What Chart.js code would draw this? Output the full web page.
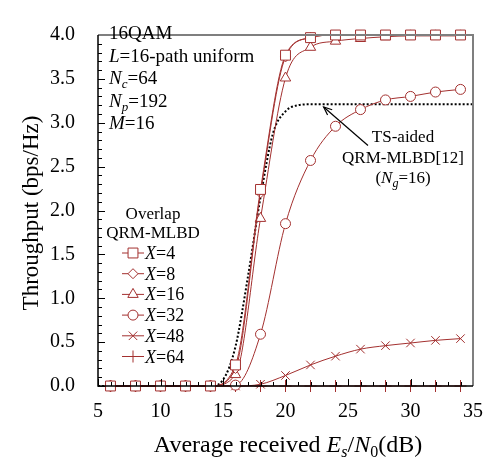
<!DOCTYPE html>
<html>
<head>
<meta charset="utf-8">
<script src="https://cdn.jsdelivr.net/npm/chart.js@4.4.0/dist/chart.umd.min.js"></script>
<style>
  html, body { margin: 0; padding: 0; background: #fff; }
</style>
</head>
<body>
<canvas id="throughputChart" width="497" height="459"></canvas>
<script>
  // valores
  const snr = [6, 8, 10, 12, 14, 16, 18, 20, 22, 24, 26, 28, 30, 32, 34];
  const tputX4  = [0, 0, 0, 0, 0, 0.24, 2.24, 3.77, 3.97, 4.0, 4.0, 4.0, 4.0, 4.0, 4.0];
  const tputX8  = [0, 0, 0, 0, 0, 0.20, 2.20, 3.75, 3.97, 4.0, 4.0, 4.0, 4.0, 4.0, 4.0];
  const tputX16 = [0, 0, 0, 0, 0, 0.13, 1.91, 3.51, 3.86, 3.93, 3.96, 3.98, 3.99, 3.99, 3.99];
  const tputX32 = [0, 0, 0, 0, 0, 0.01, 0.59, 1.85, 2.57, 2.96, 3.15, 3.26, 3.30, 3.35, 3.38];
  const tputX48 = [0, 0, 0, 0, 0, 0, 0.02, 0.12, 0.24, 0.34, 0.42, 0.46, 0.49, 0.52, 0.54];
  const tputX64 = [0, 0, 0, 0, 0, 0, 0, 0, 0, 0, 0, 0, 0, 0, 0];

  const snrTS  = [5, 6, 7, 8, 9, 10, 11, 12, 13, 14, 15, 16, 17, 18, 19, 20, 21, 22, 23, 24, 25, 26, 27, 28, 29, 30, 31, 32, 33, 34, 35];
  const tputTS = [0, 0, 0, 0, 0, 0, 0, 0, 0, 0, 0.07, 0.45, 1.25, 2.15, 2.88, 3.13, 3.2, 3.21, 3.21, 3.21, 3.21, 3.21, 3.21, 3.21, 3.21, 3.21, 3.21, 3.21, 3.21, 3.21, 3.21];

  const legendaX = ['4', '8', '16', '32', '48', '64'];
  const marcadores = ['rect', 'rectRot', 'triangle', 'circle', 'crossRot', 'cross'];
  const raios = [7, 5, 6, 5, 6, 6];

  const vermelho = '#a3302f';
  const serif = '"Liberation Serif", "Times New Roman", serif';

  const series = [tputX4, tputX8, tputX16, tputX32, tputX48, tputX64];

  const datasets = series.map((valores, i) => ({
    label: 'X=' + legendaX[i],
    data: snr.map((s, k) => ({ x: s, y: valores[k] })),
    borderColor: vermelho,
    borderWidth: 1,
    backgroundColor: '#fff',
    pointStyle: marcadores[i],
    pointRadius: raios[i],
    pointBorderWidth: 1,
    pointBorderColor: vermelho,
    pointBackgroundColor: '#fff',
    cubicInterpolationMode: 'monotone',
    clip: false
  }));

  datasets.push({
    label: 'TS-aided',
    data: snrTS.map((s, k) => ({ x: s, y: tputTS[k] })),
    borderColor: '#000',
    borderWidth: 2,
    borderDash: [2, 2],
    pointRadius: 0,
    cubicInterpolationMode: 'monotone',
    clip: false
  });

  function fonte(p, tam) {
    return (p.i ? 'italic ' : '') + (p.sub ? Math.round(tam * 0.68) : tam) + 'px ' + serif;
  }

  function textoRico(ctx, partes, x, y, tam, alinhar) {
    const medidas = partes.map(p => { ctx.font = fonte(p, tam); return ctx.measureText(p.t).width; });
    const total = medidas.reduce((a, b) => a + b, 0);
    let cx = alinhar === 'center' ? x - total / 2 : x;
    ctx.textAlign = 'left';
    ctx.textBaseline = 'alphabetic';
    partes.forEach((p, i) => {
      ctx.font = fonte(p, tam);
      ctx.fillText(p.t, cx, y + (p.sub ? tam * 0.22 : 0));
      cx += medidas[i];
    });
  }

  const desenhoExtra = {
    id: 'desenhoExtra',
    afterDraw(chart) {
      const ctx = chart.ctx;
      const { left, right, top, bottom } = chart.chartArea;
      const xs = chart.scales.x, ys = chart.scales.y;
      ctx.save();

      // marcas dos eixos, para dentro
      ctx.strokeStyle = '#000';
      ctx.lineWidth = 1;
      for (let v = 5; v <= 35; v++) {
        const px = Math.round(xs.getPixelForValue(v)) + 0.5;
        const len = v % 5 === 0 ? 7 : 4;
        ctx.beginPath(); ctx.moveTo(px, bottom); ctx.lineTo(px, bottom - len); ctx.stroke();
      }
      for (let k = 0; k <= 40; k++) {
        const py = Math.round(ys.getPixelForValue(k / 10)) + 0.5;
        const len = k % 5 === 0 ? 7 : 4;
        ctx.beginPath(); ctx.moveTo(left, py); ctx.lineTo(left + len, py); ctx.stroke();
      }

      // moldura
      ctx.strokeStyle = '#7f7f7f';
      ctx.lineWidth = 2;
      ctx.beginPath(); ctx.moveTo(left, top); ctx.lineTo(right, top); ctx.lineTo(right, bottom); ctx.stroke();
      ctx.strokeStyle = '#000';
      ctx.lineWidth = 1.5;
      ctx.beginPath(); ctx.moveTo(left, top); ctx.lineTo(left, bottom); ctx.lineTo(right, bottom); ctx.stroke();

      ctx.fillStyle = '#000';

      // titulos dos eixos
      textoRico(ctx, [{ t: 'Average received ' }, { t: 'E', i: true }, { t: 's', i: true, sub: true },
        { t: '/' }, { t: 'N', i: true }, { t: '0', sub: true }, { t: '(dB)' }], 288, 452, 24, 'center');
      ctx.save();
      ctx.translate(38, 213);
      ctx.rotate(-Math.PI / 2);
      textoRico(ctx, [{ t: 'Throughput (bps/Hz)' }], 0, 0, 23, 'center');
      ctx.restore();

      // parametros
      const x0 = 109;
      textoRico(ctx, [{ t: '16QAM' }], x0, 39, 19);
      textoRico(ctx, [{ t: 'L', i: true }, { t: '=16-path uniform' }], x0, 61.5, 19);
      textoRico(ctx, [{ t: 'N', i: true }, { t: 'c', i: true, sub: true }, { t: '=64' }], x0, 84, 19);
      textoRico(ctx, [{ t: 'N', i: true }, { t: 'p', i: true, sub: true }, { t: '=192' }], x0, 106.5, 19);
      textoRico(ctx, [{ t: 'M', i: true }, { t: '=16' }], x0, 129, 19);

      // anotacao TS-aided
      textoRico(ctx, [{ t: 'TS-aided' }], 403, 142, 17, 'center');
      textoRico(ctx, [{ t: 'QRM-MLBD[12]' }], 403, 163, 17, 'center');
      textoRico(ctx, [{ t: '(' }, { t: 'N', i: true }, { t: 'g', i: true, sub: true }, { t: '=16)' }], 403, 183, 17, 'center');

      const ax = xs.getPixelForValue(26.6), ay = ys.getPixelForValue(2.74);
      const bx = xs.getPixelForValue(23.05), by = ys.getPixelForValue(3.18);
      const ang = Math.atan2(by - ay, bx - ax);
      ctx.strokeStyle = '#000';
      ctx.lineWidth = 1.2;
      ctx.beginPath(); ctx.moveTo(ax, ay); ctx.lineTo(bx, by); ctx.stroke();
      ctx.beginPath();
      ctx.moveTo(bx - 9 * Math.cos(ang - 0.4), by - 9 * Math.sin(ang - 0.4));
      ctx.lineTo(bx, by);
      ctx.lineTo(bx - 9 * Math.cos(ang + 0.4), by - 9 * Math.sin(ang + 0.4));
      ctx.stroke();

      // legenda
      textoRico(ctx, [{ t: 'Overlap' }], 153, 219, 17, 'center');
      textoRico(ctx, [{ t: 'QRM-MLBD' }], 153, 238, 17, 'center');
      legendaX.forEach((v, i) => {
        const ly = 253 + i * 20.7;
        ctx.strokeStyle = vermelho;
        ctx.lineWidth = 1;
        ctx.beginPath(); ctx.moveTo(122, ly); ctx.lineTo(144, ly); ctx.stroke();
        ctx.fillStyle = '#fff';
        Chart.helpers.drawPoint(ctx, { pointStyle: marcadores[i], radius: raios[i], rotation: 0, borderWidth: 1 }, 133, ly);
        ctx.fillStyle = '#000';
        textoRico(ctx, [{ t: 'X', i: true }, { t: '=' + v }], 145, ly + 6, 18);
      });

      ctx.restore();
    }
  };

  new Chart(document.getElementById('throughputChart').getContext('2d'), {
    type: 'line',
    data: { datasets },
    options: {
      responsive: false,
      animation: false,
      devicePixelRatio: 1,
      layout: { padding: { top: 14, right: 22, left: 0, bottom: 0 } },
      plugins: { legend: { display: false }, tooltip: { enabled: false } },
      scales: {
        x: {
          type: 'linear', min: 5, max: 35,
          grid: { display: false, drawTicks: false },
          border: { display: false },
          ticks: { stepSize: 5, padding: 14, color: '#000', font: { family: serif, size: 20 } },
          afterFit: s => { s.height = 73; }
        },
        y: {
          type: 'linear', min: 0, max: 4,
          grid: { display: false, drawTicks: false },
          border: { display: false },
          ticks: { stepSize: 0.5, padding: 23, color: '#000', font: { family: serif, size: 20 },
            callback: v => v.toFixed(1) },
          afterFit: s => { s.width = 98; }
        }
      }
    },
    plugins: [desenhoExtra]
  });
</script>
</body>
</html>
